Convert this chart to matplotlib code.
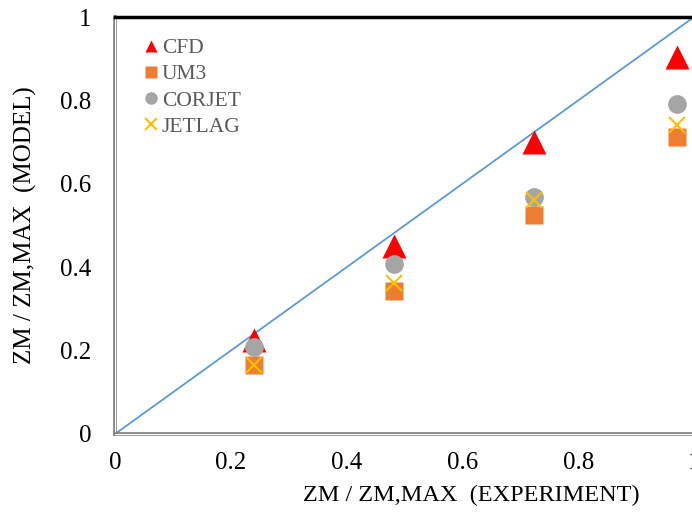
import matplotlib
matplotlib.use('Agg')
import matplotlib.pyplot as plt
import matplotlib.patheffects as pe

plt.rcParams['font.family'] = ['Liberation Serif', 'DejaVu Serif']

# data
exp_x = [0.240, 0.482, 0.724, 0.971]
cfd = [0.225, 0.451, 0.700, 0.905]
um3 = [0.166, 0.343, 0.525, 0.712]
corjet = [0.208, 0.408, 0.568, 0.791]
jetlag = [0.165, 0.363, 0.560, 0.742]
ticks = [0, 0.2, 0.4, 0.6, 0.8, 1.0]
tick_labels = ['0', '0.2', '0.4', '0.6', '0.8', '1']

fig = plt.figure(figsize=(6.92, 5.13), dpi=100)
ax = fig.add_axes([115 / 692, 79 / 513, 579 / 692, 417 / 513])

# 1:1 line
ax.plot([0, 1], [0, 1], color='#5B9BD5', lw=1.3, zorder=2)

ax.plot(exp_x, cfd, '^', color='#FF0000', ms=17.5, mec='none', label='CFD', zorder=3)
ax.plot(exp_x, um3, 's', color='#ED7D31', ms=13.5, mec='none', label='UM3', zorder=3)
ax.plot(exp_x, corjet, 'o', color='#A5A5A5', ms=13.5, mec='none', label='CORJET', zorder=3)
ax.plot(exp_x, jetlag, 'x', color='#FFC000', ms=12, mew=1.5, label='JETLAG', zorder=4)

ax.set_xlim(0, 1)
ax.set_ylim(0, 1)
ax.set_xticks(ticks)
ax.set_xticklabels(tick_labels)
ax.set_yticks(ticks)
ax.set_yticklabels(tick_labels)
ax.tick_params(length=0, labelsize=18)
ax.tick_params(axis='x', pad=13)
ax.tick_params(axis='y', pad=17)

# spines: thick black top, double gray left/bottom
ax.spines['top'].set_color('black')
ax.spines['top'].set_linewidth(2.5)
ax.spines['right'].set_visible(False)
for s in ['left', 'bottom']:
    ax.spines[s].set_color('white')
    ax.spines[s].set_linewidth(0.8)
    ax.spines[s].set_path_effects([pe.withStroke(linewidth=2.6, foreground='#808080')])

ax.set_xlabel('ZM / ZM,MAX  (EXPERIMENT)', fontsize=17.5)
ax.set_ylabel('ZM / ZM,MAX  (MODEL)', fontsize=18)
ax.xaxis.set_label_coords(0.615, -0.122)
ax.yaxis.set_label_coords(-0.135, 0.5)

leg = ax.legend(loc='upper left', bbox_to_anchor=(0.025, 0.985), frameon=False,
                fontsize=15.5, handlelength=0.6, handletextpad=0.2,
                labelspacing=0.28, borderaxespad=0.3)
for h in leg.legend_handles:
    h.set_markersize(9)
for t in leg.get_texts():
    t.set_color('#595959')

fig.savefig('out.png', dpi=100)
